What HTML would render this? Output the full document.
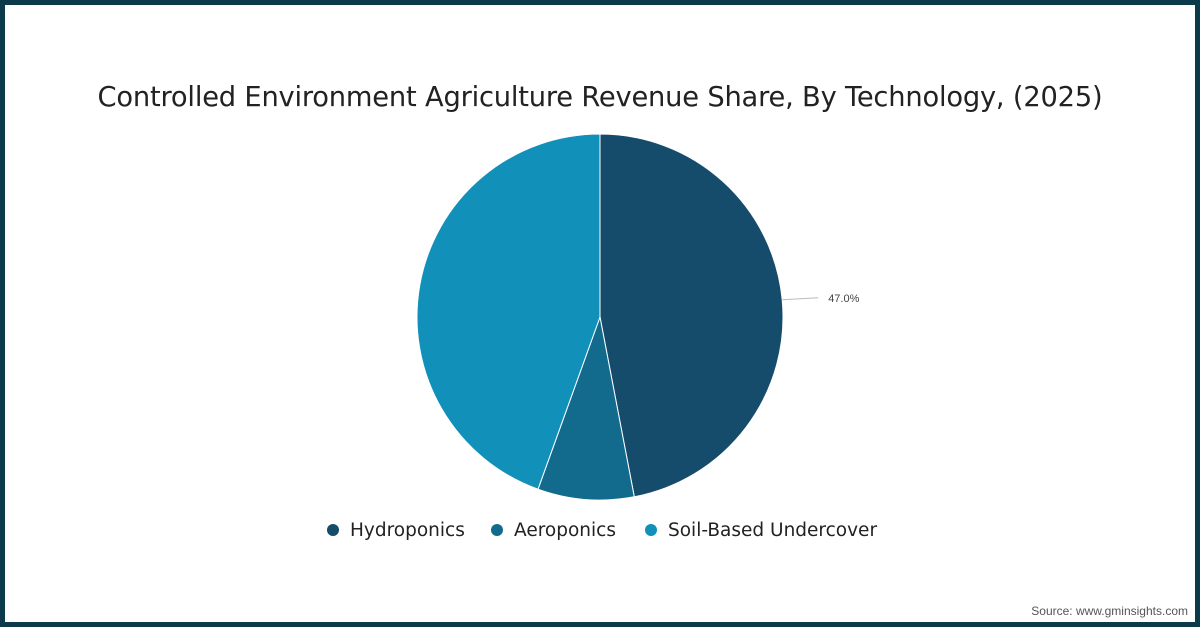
<!DOCTYPE html>
<html><head><meta charset="utf-8">
<style>
html,body{margin:0;padding:0;}
body{width:1200px;height:627px;position:relative;overflow:hidden;background:#fff;font-family:"Liberation Sans",sans-serif;}
#frame{position:absolute;left:0;top:0;width:1190px;height:617px;border:5px solid #0b3b4a;}
#title{position:absolute;left:0;top:82px;width:1200px;text-align:center;font-size:27.3px;color:#222;font-family:"DejaVu Sans","Liberation Sans",sans-serif;font-weight:normal;letter-spacing:-0.2px;}
#src{position:absolute;right:12px;top:604px;font-size:12px;color:#555;}
svg{position:absolute;left:0;top:0;}
</style></head><body>
<div id="frame"></div>
<div id="title">Controlled Environment Agriculture Revenue Share, By Technology, (2025)</div>
<svg id="chart" width="1200" height="627"></svg>
<div id="src">Source: www.gminsights.com</div>
<script>
const categories = ["Hydroponics","Aeroponics","Soil-Based Undercover"];
const shares = [47.0, 8.5, 44.5];
const labels = ["47.0%", "", ""];
const colors = ["#154b6b","#126b8c","#1190b9"];
const svg = document.getElementById('chart');
const NS = 'http://www.w3.org/2000/svg';
const cx = 600, cy = 317, r = 183;
const total = shares.reduce((a,b)=>a+b,0);
function pt(frac, rad){const a = frac*2*Math.PI; return [cx + rad*Math.sin(a), cy - rad*Math.cos(a)];}
let acc = 0;
shares.forEach((v,i)=>{
  const s = acc/total, e = (acc+v)/total; acc += v;
  const [x1,y1] = pt(s,r), [x2,y2] = pt(e,r);
  const large = (e-s) > 0.5 ? 1 : 0;
  const p = document.createElementNS(NS,'path');
  p.setAttribute('d',`M${cx},${cy} L${x1},${y1} A${r},${r} 0 ${large} 1 ${x2},${y2} Z`);
  p.setAttribute('fill',colors[i]);
  p.setAttribute('stroke','#fff');
  p.setAttribute('stroke-width','1');
  
  
  svg.appendChild(p);
  if (labels[i]) {
    const mid = (s+e)/2;
    const [lx1,ly1] = pt(mid, r);
    const ln = document.createElementNS(NS,'line');
    ln.setAttribute('x1',lx1); ln.setAttribute('y1',ly1);
    ln.setAttribute('x2',lx1+36); ln.setAttribute('y2',ly1-2);
    ln.setAttribute('stroke','#bbb'); ln.setAttribute('stroke-width','1');
    
    
    svg.appendChild(ln);
    const t = document.createElementNS(NS,'text');
    t.setAttribute('x',lx1+46); t.setAttribute('y',ly1+2);
    t.setAttribute('font-size','11'); t.setAttribute('fill','#444');
    t.setAttribute('font-family','"Liberation Sans",sans-serif');
    t.textContent = labels[i];
    
    
    svg.appendChild(t);
  }
});
const legX = [333, 497, 651];
categories.forEach((c,i)=>{
  const g = document.createElementNS(NS,'g');
  
  
  const ci = document.createElementNS(NS,'circle');
  ci.setAttribute('cx',legX[i]); ci.setAttribute('cy',530); ci.setAttribute('r',6);
  ci.setAttribute('fill',colors[i]);
  g.appendChild(ci);
  const t = document.createElementNS(NS,'text');
  t.setAttribute('x',legX[i]+17); t.setAttribute('y',536);
  t.setAttribute('font-size','18.5'); t.setAttribute('fill','#222');
  t.setAttribute('font-family','"DejaVu Sans","Liberation Sans",sans-serif');
  t.textContent = c;
  g.appendChild(t);
  svg.appendChild(g);
});
</script>
</body></html>
